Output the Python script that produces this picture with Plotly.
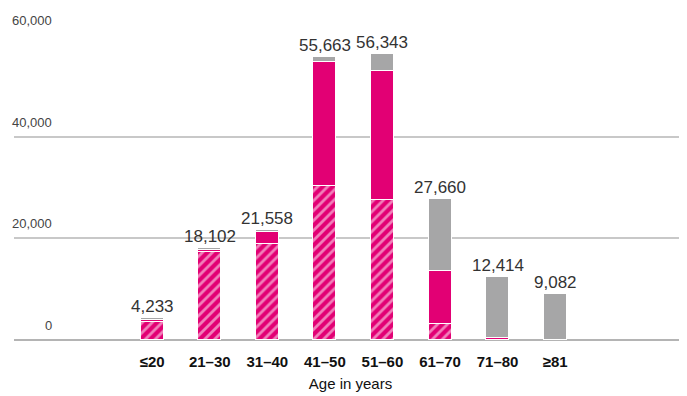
import plotly.graph_objects as go

# age groups and stacked segments (bottom hatched, middle solid, top grey)
age_groups = ["≤20", "21–30", "31–40", "41–50", "51–60", "61–70", "71–80", "≥81"]
hatched = [3533, 17300, 18808, 30300, 27600, 3100, 0, 0]
solid = [350, 450, 2400, 24463, 25273, 10400, 300, 0]
grey = [350, 352, 350, 900, 3470, 14160, 12114, 9082]
totals = [4233, 18102, 21558, 55663, 56343, 27660, 12414, 9082]

y_ticks = [0, 20000, 40000, 60000]

MAGENTA = "#E20074"
GREY = "#A6A6A7"
xs = list(range(len(age_groups)))

fig = go.Figure()
fig.add_trace(go.Bar(
    x=xs, y=hatched, width=0.4,
    marker=dict(color=MAGENTA, line=dict(color="white", width=1),
                pattern=dict(shape="/", fgcolor="white", bgcolor=MAGENTA,
                             size=7, solidity=0.4)),
))
fig.add_trace(go.Bar(
    x=xs, y=solid, width=0.4,
    marker=dict(color=MAGENTA, line=dict(color="white", width=1)),
))
fig.add_trace(go.Bar(
    x=xs, y=grey, width=0.4,
    marker=dict(color=GREY, line=dict(color="white", width=1)),
))

# value labels above the bars
for x, t in zip(xs, totals):
    fig.add_annotation(x=x, y=t, text=f"{t:,}", showarrow=False,
                       yanchor="bottom", yshift=1, borderpad=0,
                       font=dict(size=17, color="#333333"))

# y tick labels sitting above the grid lines
for v in y_ticks:
    fig.add_annotation(x=0.058, xref="paper", y=v, text=f"{v:,}", showarrow=False,
                       xanchor="right", yanchor="bottom", yshift=6, borderpad=0,
                       font=dict(size=13, color="#444444"))

# page body has an 8px margin, so the figure is a little smaller than the window
fig.update_layout(
    width=679, height=388,
    margin=dict(l=6, r=0, t=27, b=56),
    paper_bgcolor="white", plot_bgcolor="white",
    barmode="stack", bargap=0,
    showlegend=False,
    font=dict(family="Liberation Sans, Arial, sans-serif", color="#222222"),
)
fig.update_xaxes(
    range=[-2.40, 9.29], tickvals=xs, ticktext=age_groups,
    tickfont=dict(size=15, color="#111111", weight="bold"),
    ticks="outside", ticklen=8, tickcolor="rgba(0,0,0,0)",
    showgrid=False, zeroline=False, showline=False,
    title=dict(text="Age in years", standoff=9,
               font=dict(size=15, color="#111111")),
)
fig.update_yaxes(
    range=[0, 60000], tickvals=y_ticks, showticklabels=False,
    showgrid=True, gridcolor="#C8C8C8", gridwidth=1.5,
    zeroline=True, zerolinecolor="#B4B4B4", zerolinewidth=1.5,
)

fig.write_html("out.html")
